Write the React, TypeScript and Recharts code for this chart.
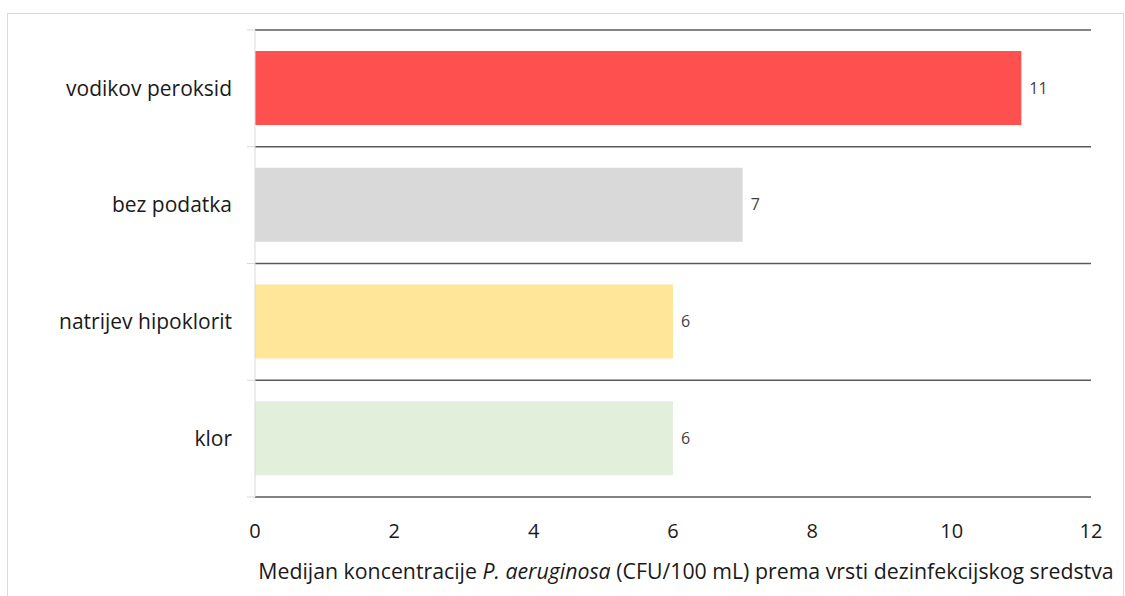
import React from 'react';
import { BarChart, Bar, XAxis, YAxis, CartesianGrid, Cell, LabelList } from 'recharts';

const categories = ['vodikov peroksid', 'bez podatka', 'natrijev hipoklorit', 'klor'];
const medians = [11, 7, 6, 6];
const barColors = ['#FF5050', '#D9D9D9', '#FFE699', '#E2EFDA'];
const xTicks = [0, 2, 4, 6, 8, 10, 12];

const data = categories.map((name, i) => ({ name, value: medians[i] }));

const FONT = '"Open Sans", sans-serif';
const W = 1125;
const H = 596;
const MARGIN = { top: 30, right: 34, bottom: 29, left: 0 };
const Y_AXIS_W = 255;
const X_AXIS_H = 70;
const PLOT_H = H - MARGIN.top - MARGIN.bottom - X_AXIS_H;
const BAND = PLOT_H / categories.length;

function CategoryTick(props: any) {
  const { x, y, payload, index } = props;
  const half = BAND / 2;
  const ax = x + 8;
  return (
    <g>
      <line x1={ax - 8} x2={ax} y1={y - half} y2={y - half} stroke="#d9d9d9" strokeWidth={1} />
      {index === categories.length - 1 && (
        <line x1={ax - 8} x2={ax} y1={y + half} y2={y + half} stroke="#d9d9d9" strokeWidth={1} />
      )}
      <text x={ax - 23} y={y} dy="0.35em" textAnchor="end" fill="#1a1a1a" fontSize={21} fontFamily={FONT}>
        {payload.value}
      </text>
    </g>
  );
}

function AxisTitle(props: any) {
  const { viewBox } = props;
  const cx = viewBox.x + viewBox.width / 2 + 13;
  const y = viewBox.y + 82;
  return (
    <text x={cx} y={y} textAnchor="middle" fill="#1a1a1a" fontSize={21.3} fontFamily={FONT}>
      <tspan>Medijan koncentracije </tspan>
      <tspan fontStyle="italic">P. aeruginosa</tspan>
      <tspan> (CFU/100 mL) prema vrsti dezinfekcijskog sredstva</tspan>
    </text>
  );
}

export default function App() {
  return (
    <div style={{ position: 'absolute', left: 0, top: 0, width: W, height: H, background: '#fff', overflow: 'hidden' }}>
      <div
        style={{
          position: 'absolute',
          left: 7,
          top: 13,
          width: 1117,
          height: 600,
          border: '1px solid #d9d9d9',
          boxSizing: 'border-box',
        }}
      />
      <div style={{ position: 'absolute', left: 0, top: 0 }}>
        <BarChart width={W} height={H} data={data} layout="vertical" margin={MARGIN}>
          <CartesianGrid
            vertical={false}
            stroke="#5a5a5a"
            strokeWidth={1.5}
            horizontalCoordinatesGenerator={({ offset }: any) =>
              Array.from({ length: categories.length + 1 }, (_, i) => offset.top + (i * offset.height) / categories.length)
            }
          />
          <XAxis
            type="number"
            domain={[0, 12]}
            ticks={xTicks}
            axisLine={false}
            tickLine={false}
            tickMargin={21}
            height={X_AXIS_H}
            tick={{ fill: '#1a1a1a', fontSize: 20, fontFamily: FONT }}
            label={<AxisTitle />}
          />
          <YAxis
            type="category"
            dataKey="name"
            width={Y_AXIS_W}
            axisLine={{ stroke: '#d9d9d9' }}
            tickLine={false}
            tick={<CategoryTick />}
          />
          <Bar dataKey="value" barSize={74} isAnimationActive={false}>
            {data.map((d, i) => (
              <Cell key={d.name} fill={barColors[i]} />
            ))}
            <LabelList dataKey="value" position="right" offset={8} fill="#404040" fontSize={16} fontFamily={FONT} />
          </Bar>
        </BarChart>
      </div>
    </div>
  );
}
